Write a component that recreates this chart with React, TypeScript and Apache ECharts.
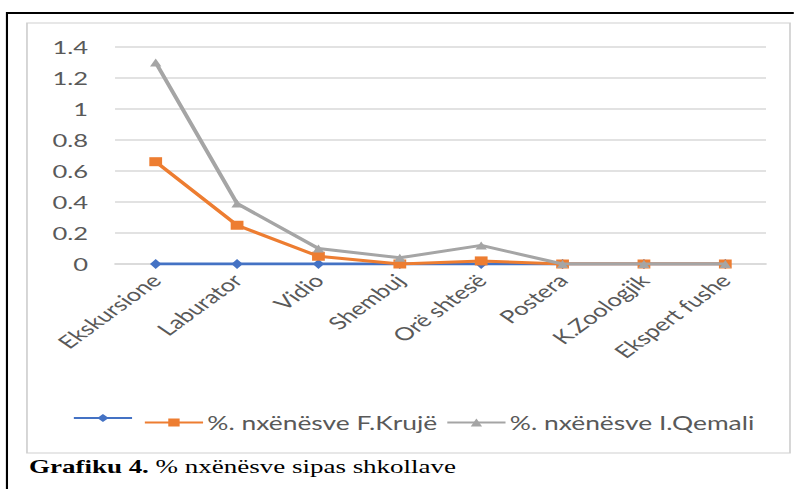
import React, { useEffect, useRef } from "react";
import * as echarts from "echarts";

const categories = ["Ekskursione", "Laburator", "Vidio", "Shembuj", "Orë shtesë", "Postera", "K.Zoologjik", "Ekspert fushe"];
const seriesBlueName = "Seria 1";
const seriesBlue = [0, 0, 0, 0, 0, 0, 0, 0];
const seriesKrujeName = "%. nxënësve F.Krujë";
const seriesKruje = [0.66, 0.25, 0.05, 0.0, 0.02, 0, 0, 0];
const seriesQemaliName = "%. nxënësve I.Qemali";
const seriesQemali = [1.3, 0.39, 0.1, 0.04, 0.12, 0, 0, 0];
const captionBold = "Grafiku 4.";
const captionText = " % nxënësve sipas shkollave";

const S = 1.42; // horizontal stretch of the reference image
const W = 794 / S;
const H = 489;

export default function App() {
  const ref = useRef<HTMLDivElement>(null);
  useEffect(() => {
    const chart = echarts.init(ref.current!, null, { renderer: "svg", width: W, height: H });
    const font = "Lato";
    const legendCommon = {
      top: 413,
      itemWidth: 41,
      itemHeight: 10,
      itemGap: 0,
      textStyle: { fontFamily: font, fontSize: 18.6, color: "#595959", padding: [0, 0, 0, -2] },
      padding: 0,
    };
    chart.setOption({
      animation: false,
      backgroundColor: "#ffffff",
      grid: { left: 81, right: W - 766 / S, top: 47, bottom: H - 264, containLabel: false },
      xAxis: {
        type: "category",
        data: categories,
        boundaryGap: true,
        axisLine: { show: true, lineStyle: { color: "#d9d9d9", width: 1.5 } },
        axisTick: { show: false },
        axisLabel: {
          interval: 0,
          rotate: 46,
          margin: 13,
          fontFamily: font,
          fontSize: 18,
          color: "#595959",
        },
      },
      yAxis: {
        type: "value",
        min: 0,
        max: 1.4,
        interval: 0.2,
        axisLine: { show: false },
        axisTick: { show: false },
        axisLabel: { margin: 19, fontFamily: font, fontSize: 18, color: "#595959" },
        splitLine: { lineStyle: { color: "#d9d9d9", width: 1.5 } },
      },
      legend: [
        { ...legendCommon, left: 51, data: [seriesBlueName], formatter: () => "" },
        { ...legendCommon, left: 101, data: [seriesKrujeName] },
        { ...legendCommon, left: 314, data: [seriesQemaliName] },
      ],
      graphic: [
        { type: "line", shape: { x1: 4.9, y1: 13, x2: W + 2, y2: 13 }, style: { stroke: "#000", lineWidth: 2.2 } },
        { type: "line", shape: { x1: 4.9, y1: 12, x2: 4.9, y2: H + 2 }, style: { stroke: "#000", lineWidth: 1.5 } },
        {
          type: "rect",
          shape: { x: 19, y: 23, width: 790 / S - 19, height: 430 },
          style: { fill: "none", stroke: "#d0d0d0", lineWidth: 1.2 },
          z: -1,
        },
        {
          type: "text",
          x: 20.4,
          y: 476,
          style: {
            text: "{b|" + captionBold + "}{r|" + captionText + "}",
            verticalAlign: "bottom",
            rich: {
              b: { fontFamily: "Liberation Serif", fontWeight: "bold", fontSize: 19, fill: "#000" },
              r: { fontFamily: "Liberation Serif", fontSize: 19, fill: "#000" },
            },
          },
        },
      ],
      series: [
        {
          name: seriesBlueName,
          type: "line",
          data: seriesBlue,
          symbol: "diamond",
          symbolSize: [8, 10],
          lineStyle: { color: "#4472c4", width: 3 },
          itemStyle: { color: "#4472c4" },
          z: 2,
        },
        {
          name: seriesKrujeName,
          type: "line",
          data: seriesKruje,
          symbol: "rect",
          symbolSize: [9, 9],
          lineStyle: { color: "#ed7d31", width: 3 },
          itemStyle: { color: "#ed7d31" },
          z: 3,
        },
        {
          name: seriesQemaliName,
          type: "line",
          data: seriesQemali,
          symbol: "triangle",
          symbolSize: [8, 8],
          lineStyle: { color: "#a5a5a5", width: 3 },
          itemStyle: { color: "#a5a5a5" },
          z: 4,
        },
      ],
    });
    return () => chart.dispose();
  }, []);
  return (
    <div
      ref={ref}
      style={{
        position: "absolute",
        left: 0,
        top: 0,
        width: W + "px",
        height: H + "px",
        transform: `scaleX(${S})`,
        transformOrigin: "0 0",
        background: "#fff",
      }}
    />
  );
}
